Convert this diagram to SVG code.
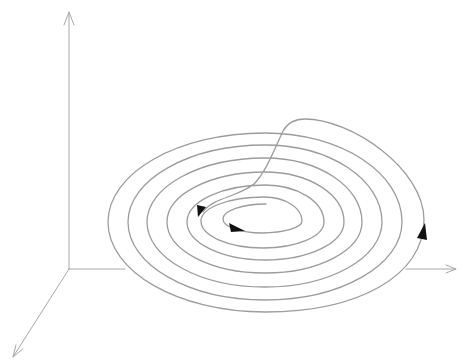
<svg xmlns="http://www.w3.org/2000/svg" width="458" height="360" viewBox="0 0 458 360">
<style>
.axis{fill:none;stroke:#a8a8a8;stroke-width:1;stroke-linecap:round}
.curve{fill:none;stroke:#9c9c9c;stroke-width:1.3;stroke-linecap:round;stroke-linejoin:round}
.head{fill:#111;stroke:none}
</style>
<rect width="458" height="360" fill="#fff"/>
<g id="axes">
<path class="axis" d="M69,269 V12 M64,25 L69,12 L74,25"/>
<path class="axis" d="M69,269 H125 M406,269 H456 M446,265 L456,269 L446,273"/>
<path class="axis" d="M69,269 L13,357 M16,344.8 L13,357 L22.8,349"/>
</g>
<g id="trajectory">
<path class="curve" d="M266,204
C242.3,204 223,210.7 223,219
C223,226.7 240.5,233 262,233
C284.1,233 302,227.6 302,221
C302,207.7 285,197 264,197
C229.2,197 201,207.7 201,221
C201,235.9 228.8,248 263,248
C296.7,248 324,236.4 324,222
C324,201.6 297.6,185 265,185
C221.9,185 187,201.6 187,222
C187,243 221.9,260 265,260
C308.6,260 344,243 344,222
C344,194.4 308.6,172 265,172
C210.9,172 167,194.4 167,222
C167,250.2 210.9,273 265,273
C318.6,273 362,250.2 362,222
C362,186.7 318.6,158 265,158
C199.8,158 147,186.7 147,222
C147,257.9 199.8,287 265,287
C329.6,287 382,257.9 382,222
C382,179.5 329.6,145 265,145
C189.3,145 128,179.5 128,222
C128,265.1 189.3,300 265,300
C340.7,300 402,265.1 402,222
C402,172.8 340.7,133 265,133
C178.3,133 108,172.8 108,222
C108,271.7 178.3,312 265,312
C358,312 424,276 424,220
C424,168 350,119 305,119
C294,119 287,124 283,131
C275,148 266,172 254,184
C238,197 212,198 203,212"/>
</g>
<g id="arrowheads">
<polygon class="head" points="425,223 417,238 427,240"/>
<polygon class="head" points="229,223 231,232 245,231"/>
<polygon class="head" points="197,205 206,207 198,217"/>
</g>
</svg>
